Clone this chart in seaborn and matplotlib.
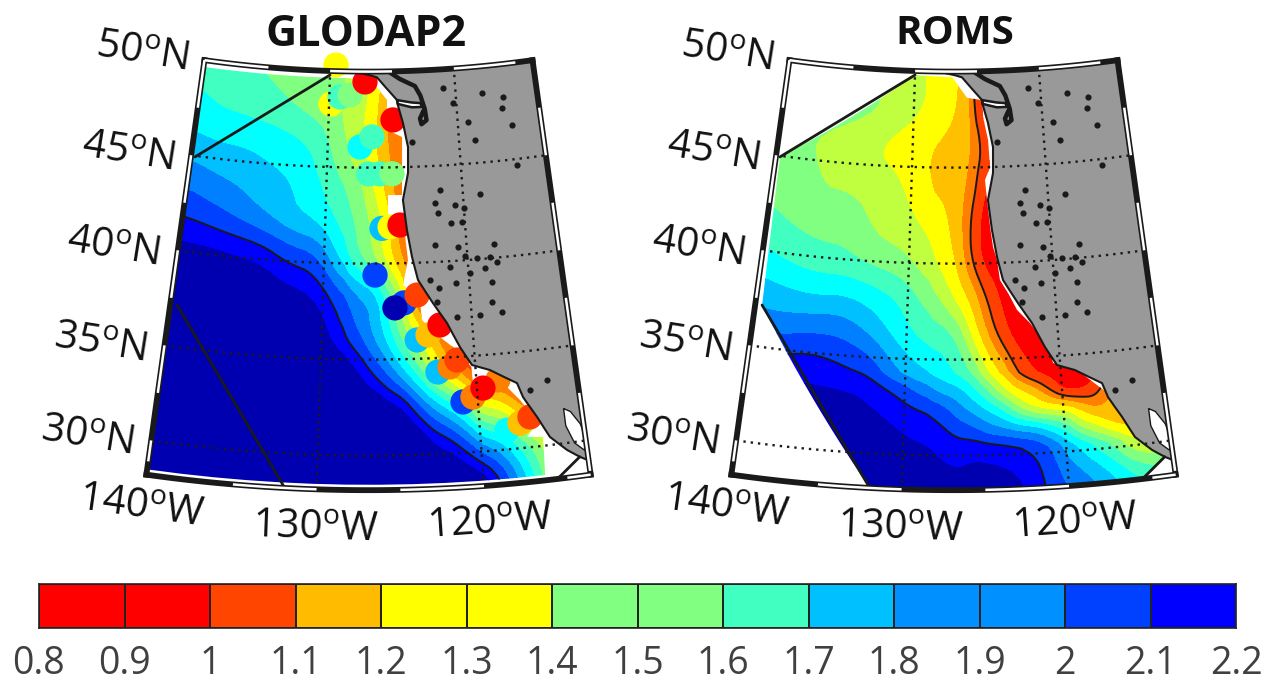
import numpy as np
import matplotlib
matplotlib.use("Agg")
import matplotlib.pyplot as plt
from matplotlib.colors import ListedColormap
from matplotlib.path import Path
from matplotlib.patches import Polygon
import seaborn as sns

# ---------------- data ----------------
band_levels = [0.8, 0.9, 1.0, 1.1, 1.2, 1.3, 1.4, 1.5, 1.6, 1.7, 1.8, 1.9, 2.0, 2.1, 2.2]
band_labels = ["0.8", "0.9", "1", "1.1", "1.2", "1.3", "1.4", "1.5", "1.6", "1.7", "1.8", "1.9", "2", "2.1", "2.2"]
map_colors = ["#ff0000", "#ff4000", "#ff8000", "#ffc000", "#ffff00", "#c0ff40", "#80ff80",
              "#40ffc0", "#00ffff", "#00c0ff", "#0080ff", "#0040ff", "#0000ff", "#0000b0"]
bar_colors = ["#ff0000", "#ff0000", "#ff4500", "#ffbb00", "#ffff00", "#ffff00", "#80ff80",
              "#80ff80", "#40ffc0", "#00c0ff", "#0090ff", "#0090ff", "#0040ff", "#0000ff"]

grid_lon = [-140.2, -138.3, -136.35, -134.4, -132.5, -130.5, -128.6, -127.6, -126.65, -125.7, -124.7,
            -123.75, -122.8, -121.8, -120.85, -119.9, -118.9, -118.0, -117.0, -116.0, -115.0, -114.0, -113.0]
glodap_lat = [50.13, 48.16, 46.17, 44.19, 42.2, 40.2, 38.23, 36.24, 34.26, 32.28, 30.29, 28.31]
glodap_values = [
    [1.56, 1.53, 1.50, 1.48, 1.47, 1.45, 1.40, 1.35, 1.30, 1.20, 1.10, 1.0, 1.0, 1.0, 1.0, 1.0, 1.0, 1.0, 1.0, 1.0, 1.0, 1.0, 1.0],
    [1.61, 1.57, 1.55, 1.52, 1.48, 1.44, 1.38, 1.33, 1.27, 1.12, 1.05, 1.0, 1.0, 1.0, 1.0, 1.0, 1.0, 1.0, 1.0, 1.0, 1.0, 1.0, 1.0],
    [1.70, 1.68, 1.68, 1.66, 1.63, 1.56, 1.38, 1.32, 1.22, 1.12, 1.03, 1.0, 1.0, 1.0, 1.0, 1.0, 1.0, 1.0, 1.0, 1.0, 1.0, 1.0, 1.0],
    [1.84, 1.80, 1.77, 1.73, 1.70, 1.60, 1.48, 1.42, 1.30, 1.17, 1.05, 1.0, 1.0, 1.0, 1.0, 1.0, 1.0, 1.0, 1.0, 1.0, 1.0, 1.0, 1.0],
    [1.97, 1.93, 1.87, 1.80, 1.72, 1.67, 1.55, 1.47, 1.38, 1.27, 1.05, 1.0, 1.0, 1.0, 1.0, 1.0, 1.0, 1.0, 1.0, 1.0, 1.0, 1.0, 1.0],
    [2.13, 2.13, 2.11, 2.08, 1.98, 1.93, 1.62, 1.50, 1.40, 1.25, 1.10, 1.0, 1.0, 1.0, 1.0, 1.0, 1.0, 1.0, 1.0, 1.0, 1.0, 1.0, 1.0],
    [2.20, 2.20, 2.20, 2.19, 2.15, 2.10, 1.92, 1.82, 1.78, 1.60, 1.35, 1.0, 0.95, 0.95, 0.95, 0.95, 0.95, 0.95, 0.95, 0.95, 0.95, 0.95, 0.95],
    [2.25, 2.25, 2.25, 2.25, 2.25, 2.20, 2.00, 1.90, 1.78, 1.65, 1.45, 1.30, 1.12, 1.0, 0.9, 0.9, 0.9, 0.9, 0.9, 0.9, 0.9, 0.9, 0.9],
    [2.25, 2.25, 2.25, 2.25, 2.25, 2.25, 2.20, 2.12, 2.00, 1.88, 1.72, 1.55, 1.35, 1.15, 1.0, 0.9, 0.9, 0.9, 0.9, 0.9, 0.9, 0.9, 0.9],
    [2.25, 2.25, 2.25, 2.25, 2.25, 2.25, 2.25, 2.25, 2.25, 2.20, 2.15, 1.97, 1.82, 1.70, 1.55, 1.30, 1.25, 1.15, 1.0, 1.0, 1.0, 1.0, 1.0],
    [2.25, 2.25, 2.25, 2.25, 2.25, 2.25, 2.25, 2.25, 2.25, 2.25, 2.25, 2.25, 2.15, 2.09, 1.97, 1.82, 1.75, 1.62, 1.48, 1.35, 1.3, 1.3, 1.3],
    [2.25, 2.25, 2.25, 2.25, 2.25, 2.25, 2.25, 2.25, 2.25, 2.25, 2.25, 2.25, 2.25, 2.25, 2.25, 2.20, 2.02, 1.85, 1.62, 1.42, 1.3, 1.3, 1.3],
]
roms_lat = [50.13, 48.16, 46.17, 44.19, 42.2, 40.2, 38.23, 36.24, 34.26, 33.27, 32.28, 31.28, 30.29, 28.31]
roms_values = [
    [1.40, 1.40, 1.40, 1.38, 1.36, 1.35, 1.28, 1.25, 1.22, 1.10, 0.85, 0.85, 0.85, 0.85, 0.85, 0.85, 0.85, 0.85, 0.85, 0.85, 0.85, 0.85, 0.85],
    [1.50, 1.48, 1.46, 1.44, 1.42, 1.35, 1.28, 1.25, 1.20, 1.12, 0.85, 0.85, 0.85, 0.85, 0.85, 0.85, 0.85, 0.85, 0.85, 0.85, 0.85, 0.85, 0.85],
    [1.42, 1.40, 1.38, 1.35, 1.29, 1.25, 1.20, 1.18, 1.15, 1.12, 1.00, 0.85, 0.85, 0.85, 0.85, 0.85, 0.85, 0.85, 0.85, 0.85, 0.85, 0.85, 0.85],
    [1.47, 1.45, 1.38, 1.36, 1.33, 1.30, 1.18, 1.17, 1.15, 1.08, 0.92, 0.85, 0.85, 0.85, 0.85, 0.85, 0.85, 0.85, 0.85, 0.85, 0.85, 0.85, 0.85],
    [1.50, 1.47, 1.45, 1.47, 1.37, 1.33, 1.27, 1.22, 1.15, 1.00, 0.85, 0.85, 0.85, 0.85, 0.85, 0.85, 0.85, 0.85, 0.85, 0.85, 0.85, 0.85, 0.85],
    [1.60, 1.55, 1.52, 1.50, 1.45, 1.42, 1.32, 1.25, 1.18, 1.00, 0.85, 0.85, 0.85, 0.85, 0.85, 0.85, 0.85, 0.85, 0.85, 0.85, 0.85, 0.85, 0.85],
    [1.73, 1.70, 1.67, 1.69, 1.65, 1.58, 1.45, 1.36, 1.25, 1.17, 1.00, 0.88, 0.85, 0.85, 0.85, 0.85, 0.85, 0.85, 0.85, 0.85, 0.85, 0.85, 0.85],
    [1.85, 1.85, 1.88, 1.88, 1.79, 1.65, 1.55, 1.55, 1.48, 1.28, 1.10, 0.95, 0.85, 0.85, 0.85, 0.85, 0.85, 0.85, 0.85, 0.85, 0.85, 0.85, 0.85],
    [2.05, 2.05, 2.07, 2.03, 2.00, 1.80, 1.70, 1.65, 1.58, 1.50, 1.30, 1.18, 1.00, 0.88, 0.85, 0.85, 0.85, 0.85, 0.85, 0.85, 0.85, 0.85, 0.85],
    [2.10, 2.10, 2.10, 2.10, 2.08, 1.99, 1.85, 1.78, 1.75, 1.65, 1.50, 1.33, 1.22, 1.15, 1.00, 0.85, 0.85, 0.92, 1.08, 1.10, 1.10, 1.10, 1.10],
    [2.25, 2.20, 2.18, 2.15, 2.12, 2.05, 2.00, 1.95, 1.85, 1.78, 1.70, 1.60, 1.42, 1.30, 1.27, 1.25, 1.15, 1.07, 1.12, 1.15, 1.15, 1.15, 1.15],
    [2.25, 2.25, 2.25, 2.20, 2.18, 2.10, 2.05, 2.02, 1.97, 1.93, 1.85, 1.82, 1.78, 1.75, 1.65, 1.55, 1.35, 1.28, 1.17, 1.15, 1.15, 1.15, 1.15],
    [2.25, 2.25, 2.25, 2.22, 2.20, 2.15, 2.11, 2.08, 2.05, 2.08, 2.07, 2.05, 2.02, 1.98, 1.90, 1.75, 1.65, 1.55, 1.45, 1.30, 1.25, 1.25, 1.25],
    [2.25, 2.25, 2.25, 2.25, 2.25, 2.18, 2.15, 2.15, 2.15, 2.15, 2.15, 2.15, 2.12, 2.05, 1.95, 1.90, 1.85, 1.80, 1.72, 1.65, 1.60, 1.60, 1.60],
]

# GLODAP station discs
station_lon = [-129.85, -129.54, -129.15, -128.37, -127.18, -127.55, -126.63, -125.0, -126.9, -126.05, -125.15,
               -125.94, -125.36, -124.65, -126.45, -124.5, -125.12, -123.6, -123.7, -122.97, -122.15,
               -122.43, -121.64, -121.16, -120.94, -120.29, -118.63, -119.62, -118.33, -117.5, -116.84]
station_lat = [48.28, 50.32, 48.66, 48.78, 49.46, 46.07, 46.6, 47.47, 44.67, 44.67, 44.67,
               41.83, 41.9, 41.99, 39.4, 37.93, 37.68, 38.32, 35.98, 36.22, 36.71,
               34.27, 34.5, 34.84, 32.64, 32.86, 33.65, 33.29, 31.0, 31.3, 31.57]
station_val = [1.25, 1.25, 1.55, 1.45, 0.85, 1.65, 1.55, 0.85, 1.55, 1.5, 1.45,
               1.72, 1.25, 0.85, 1.95, 1.95, 2.1, 0.95, 1.75, 1.15, 0.85,
               1.75, 1.05, 0.95, 1.95, 1.05, 1.05, 0.85, 1.65, 1.15, 0.95]

# coast, north to south
coast_lon = [-128.15, -126.78, -126.22, -124.65, -124.58, -124.23, -123.9, -123.96, -124.39, -124.16, -123.86,
             -123.5, -122.55, -121.68, -120.91, -120.21, -119.09, -117.43, -117.14, -116.4, -115.75, -114.81,
             -114.1, -113.6]
coast_lat = [50.0, 49.81, 49.7, 48.5, 48.2, 47.3, 46.04, 44.69, 43.29, 41.72, 40.31,
             39.1, 37.87, 36.8, 35.5, 34.53, 34.2, 33.39, 32.63, 31.53, 30.42, 29.64,
             29.2, 28.95]
salish_lon = [-125.3, -124.4, -123.2, -122.8, -122.5, -122.4, -122.8, -122.9, -122.6]
salish_lat = [50.0, 49.6, 49.2, 48.7, 48.0, 47.4, 47.2, 47.5, 47.9]
strait_lon = [-124.65, -123.5, -122.8, -122.7, -123.5, -124.6]
strait_lat = [48.5, 48.35, 48.3, 48.1, 48.1, 48.3]
gulf_lon = [-114.7, -114.3, -113.8, -113.6, -113.75, -114.3, -114.7]
gulf_lat = [31.8, 31.6, 30.9, 30.2, 29.5, 29.95, 30.9]

# small lakes
lake_lon = [-120.97, -117.93, -116.33, -120.26, -116.5, -119.21, -115.88, -118.79, -123.58, -115.85, -121.65,
            -118.76, -122.07, -120.63, -120.0, -121.89, -121.0, -120.21, -122.22, -120.62, -118.09, -120.17,
            -119.35, -118.45, -118.0, -121.26, -122.68, -119.91, -118.86, -118.46, -122.09, -120.91, -122.27,
            -118.58, -120.99, -119.45, -117.97, -115.54, -116.68]
lake_lat = [49.03, 48.61, 48.29, 48.21, 47.73, 47.17, 46.8, 46.2, 46.3, 44.69, 43.73,
            43.38, 43.07, 42.91, 42.71, 42.54, 41.98, 41.99, 40.88, 40.71, 40.72, 40.22,
            40.07, 40.06, 39.77, 39.7, 39.07, 39.32, 39.5, 38.76, 38.64, 38.85, 37.91,
            37.72, 37.08, 37.1, 37.15, 33.38, 32.96]

# outline of the GLODAP data and of the ROMS data
glodap_edge_lon = [-140.2, -128.39, -126.38, -125.44, -125.48, -124.33, -124.45, -125.47, -125.5, -124.31, -124.15,
                   -124.54, -123.42, -123.33, -122.37, -121.12, -120.26, -120.23, -118.26, -118.03, -117.35, -116.38,
                   -117.15, -116.17, -116.3, -140.2]
glodap_edge_lat = [49.65, 49.65, 49.3, 48.52, 46.96, 46.57, 43.55, 43.56, 42.37, 41.46, 40.16,
                   38.86, 37.95, 37.01, 36.2, 35.36, 34.43, 33.64, 33.99, 33.18, 32.5, 31.22,
                   30.55, 30.46, 28.48, 28.48]
roms_edge_lon = [-139.9, -130.0, -127.0, -125.83, -124.65, -124.6, -124.26, -124.17, -124.57, -124.46, -124.29,
                 -124.12, -123.87, -123.71, -123.19, -122.63, -121.81, -120.6, -120.46, -119.08, -116.83,
                 -114.1, -115.6, -131.9, -139.74]
roms_edge_lat = [44.94, 49.79, 49.71, 48.63, 48.5, 47.61, 46.41, 45.0, 44.33, 43.29, 41.88,
                 40.83, 40.15, 39.1, 38.42, 37.51, 36.8, 35.33, 34.65, 34.3, 32.62,
                 29.2, 28.2, 28.2, 37.17]
cut_lon = [[-139.9, -130.0], [-139.74, -131.9], [-115.6, -114.1]]
cut_lat = [[44.94, 49.79], [37.17, 28.2], [28.2, 29.2]]

meridians = [-130, -120]
parallels = [30, 35, 40, 45]

# ---------------- helpers ----------------
LON_W, LON_E, LAT_S, LAT_N = -140.2, -113.6, 28.2, 50.0


def project(lon, lat):
    r = 1181.6 + 19.2 * (50.0 - np.asarray(lat, float))
    t = np.radians(0.6 * (np.asarray(lon, float) + 126.9))
    return 368.5 + r * np.sin(t), -1110.0 + r * np.cos(t)


def dense(lons, lats, n=12):
    lo, la = [], []
    for i in range(len(lons) - 1):
        lo.extend(np.linspace(lons[i], lons[i + 1], n, endpoint=False))
        la.extend(np.linspace(lats[i], lats[i + 1], n, endpoint=False))
    lo.append(lons[-1])
    la.append(lats[-1])
    return project(lo, la)


def closed_path(lons, lats):
    x, y = dense(list(lons) + [lons[0]], list(lats) + [lats[0]])
    return np.column_stack([x, y])


def fine_mesh(lat_rows, values, f=5, win=5):
    """Finer mesh for the contouring, so the band edges come out rounded."""
    Z = np.array(values, float)
    nr, nc = Z.shape
    ri = np.linspace(0, nr - 1, (nr - 1) * f + 1)
    ci = np.linspace(0, nc - 1, (nc - 1) * f + 1)
    lat_f = np.interp(ri, np.arange(nr), lat_rows)
    lon_f = np.interp(ci, np.arange(nc), grid_lon)
    Z1 = np.array([np.interp(ci, np.arange(nc), row) for row in Z])
    Z2 = np.array([np.interp(ri, np.arange(nr), col) for col in Z1.T]).T
    k = np.ones(win) / win
    pad = win // 2
    P = np.pad(Z2, pad, mode="edge")
    P = np.apply_along_axis(lambda v: np.convolve(v, k, mode="valid"), 0, P)
    P = np.apply_along_axis(lambda v: np.convolve(v, k, mode="valid"), 1, P)
    return lon_f, lat_f, P


def draw_frame(ax):
    black_lw, white_lw = 4.2, 1.8
    sides = [
        ([LON_W, LON_W], [LAT_N, LAT_S]),
        ([LON_W, LON_E], [LAT_S, LAT_S]),
        ([LON_E, LON_E], [LAT_S, LAT_N]),
        ([LON_E, LON_W], [LAT_N, LAT_N]),
    ]
    for lo, la in sides:
        x, y = dense(lo, la, 60)
        ax.plot(x, y, color="k", lw=black_lw, solid_capstyle="projecting", zorder=8)
    white = [
        ([LON_W, LON_W], [50.0, 47.5]), ([LON_W, LON_W], [45.0, 42.5]), ([LON_W, LON_W], [40.0, 37.5]),
        ([LON_W, LON_W], [35.0, 32.5]), ([LON_W, LON_W], [30.0, 28.9]),
        ([LON_E, LON_E], [47.5, 45.0]), ([LON_E, LON_E], [42.5, 40.0]), ([LON_E, LON_E], [37.5, 35.0]),
        ([LON_E, LON_E], [32.5, 28.4]),
        ([LON_W, -135.0], [50.0, 50.0]), ([-130.0, -125.0], [50.0, 50.0]), ([-120.0, -115.0], [50.0, 50.0]),
        ([-135.0, -130.0], [28.2, 28.2]), ([-125.0, -120.0], [28.2, 28.2]), ([-115.0, LON_E], [28.2, 28.2]),
    ]
    for lo, la in white:
        x, y = dense(lo, la, 30)
        ax.plot(x, y, color="w", lw=white_lw, solid_capstyle="butt", zorder=8.5)


def draw_panel(ax, lat_rows, values, edge_lon, edge_lat, contour_levels, with_stations):
    lon_f, lat_f, Zf = fine_mesh(lat_rows, values)
    lon2d, lat2d = np.meshgrid(lon_f, lat_f)
    X, Y = project(lon2d, lat2d)
    Z = np.clip(Zf, 0.801, 2.199)
    clip = Path(closed_path(edge_lon, edge_lat))
    cs = ax.contourf(X, Y, Z, levels=band_levels, colors=map_colors, zorder=1)
    cs.set_clip_path(clip, ax.transData)
    cl = ax.contour(X, Y, Z, levels=contour_levels, colors="k", linewidths=1.4, zorder=2)
    cl.set_clip_path(clip, ax.transData)

    if with_stations:
        sx, sy = project(station_lon, station_lat)
        idx = np.digitize(station_val, band_levels) - 1
        sns.scatterplot(x=sx, y=sy, hue=idx, palette={i: c for i, c in enumerate(map_colors)},
                        s=330, linewidth=0, legend=False, ax=ax, zorder=3, clip_on=False)

    # land
    land_lon = list(coast_lon) + [LON_E, coast_lon[0]]
    land_lat = list(coast_lat) + [LAT_N, LAT_N]
    ax.add_patch(Polygon(closed_path(land_lon, land_lat), closed=True, facecolor="#999999",
                         edgecolor="none", zorder=4))
    x, y = dense(coast_lon, coast_lat, 2)
    ax.plot(x, y, color="k", lw=1.5, zorder=5)
    ax.add_patch(Polygon(closed_path(gulf_lon, gulf_lat), closed=True, facecolor="w", edgecolor="k",
                         lw=1.0, zorder=5))
    ax.add_patch(Polygon(closed_path(strait_lon, strait_lat), closed=True, facecolor="w", edgecolor="k",
                         lw=1.8, zorder=5))
    x, y = dense(salish_lon, salish_lat, 2)
    ax.plot(x, y, color="k", lw=3.2, zorder=5)
    lx, ly = project(lake_lon, lake_lat)
    sns.scatterplot(x=lx, y=ly, color="k", s=20, linewidth=0, ax=ax, zorder=5)

    # data limits and graticule
    for lo, la in zip(cut_lon, cut_lat):
        x, y = project(lo, la)
        ax.plot(x, y, color="k", lw=2.0, zorder=6)
    for m in meridians:
        x, y = dense([m, m], [LAT_S, LAT_N], 40)
        ax.plot(x, y, color="k", lw=1.7, ls=(0, (1, 2.1)), dash_capstyle="butt", zorder=7)
    for p in parallels:
        x, y = dense([LON_W, LON_E], [p, p], 40)
        ax.plot(x, y, color="k", lw=1.7, ls=(0, (1, 2.1)), dash_capstyle="butt", zorder=7)
    draw_frame(ax)

    # labels
    lab = dict(fontsize=29, color="#111111", ha="center", va="center", zorder=10)
    for txt, tx, ty, rot in [("50", 142, 53, -9), ("45", 128, 153, -9), ("40", 113, 248, -9),
                             ("35", 100, 344, -9), ("30", 87, 437, -9)]:
        ax.text(tx, ty, f"{txt}$^{{o}}$N", rotation=rot, **lab)
    for txt, tx, ty, rot in [("140", 141, 508, -8), ("130", 315, 529, -2), ("120", 490, 523, 4)]:
        ax.text(tx, ty, f"{txt}$^{{o}}$W", rotation=rot, **lab)

    ax.set_xlim(0, 689)
    ax.set_ylim(681, 0)
    ax.set_axis_off()


# ---------------- figure ----------------
sns.set_theme(style="white")
plt.rcParams["font.family"] = ["Open Sans", "DejaVu Sans"]
plt.rcParams["mathtext.default"] = "regular"
plt.rcParams["mathtext.fontset"] = "custom"
plt.rcParams["mathtext.rm"] = "Open Sans"

W, H = 1274, 681
fig = plt.figure(figsize=(W / 100, H / 100), dpi=100, facecolor="w")
ax_l = fig.add_axes([0, 0, 689 / W, 1])
ax_r = fig.add_axes([585 / W, 0, 689 / W, 1])
ax_l.patch.set_alpha(0)
ax_r.patch.set_alpha(0)

draw_panel(ax_l, glodap_lat, glodap_values, glodap_edge_lon, glodap_edge_lat, [2.0], True)
draw_panel(ax_r, roms_lat, roms_values, roms_edge_lon, roms_edge_lat, [1.0, 2.0], False)

fig.text(366 / W, 1 - 34 / H, "GLODAP2", fontsize=31, fontweight="bold", color="#111111", ha="center", va="center")
fig.text(955 / W, 1 - 34 / H, "ROMS", fontsize=29, fontweight="bold", color="#111111", ha="center", va="center")

# colour bar
ax_c = fig.add_axes([39 / W, 1 - 628 / H, 1197 / W, 44 / H])
mids = np.array([band_levels[:-1]])
sns.heatmap(mids, ax=ax_c, cmap=ListedColormap(bar_colors), cbar=False, linewidths=1.2, linecolor="#222222",
            xticklabels=False, yticklabels=False)
ax_c.set_xticks(np.arange(len(band_labels)))
ax_c.set_xticklabels(band_labels, fontsize=27, color="#404040", rotation=0)
ax_c.tick_params(axis="x", length=0, pad=12)
ax_c.set_yticks([])
for s in ax_c.spines.values():
    s.set_visible(True)
    s.set_color("#222222")
    s.set_linewidth(1.2)

fig.savefig("out.png", dpi=100)
